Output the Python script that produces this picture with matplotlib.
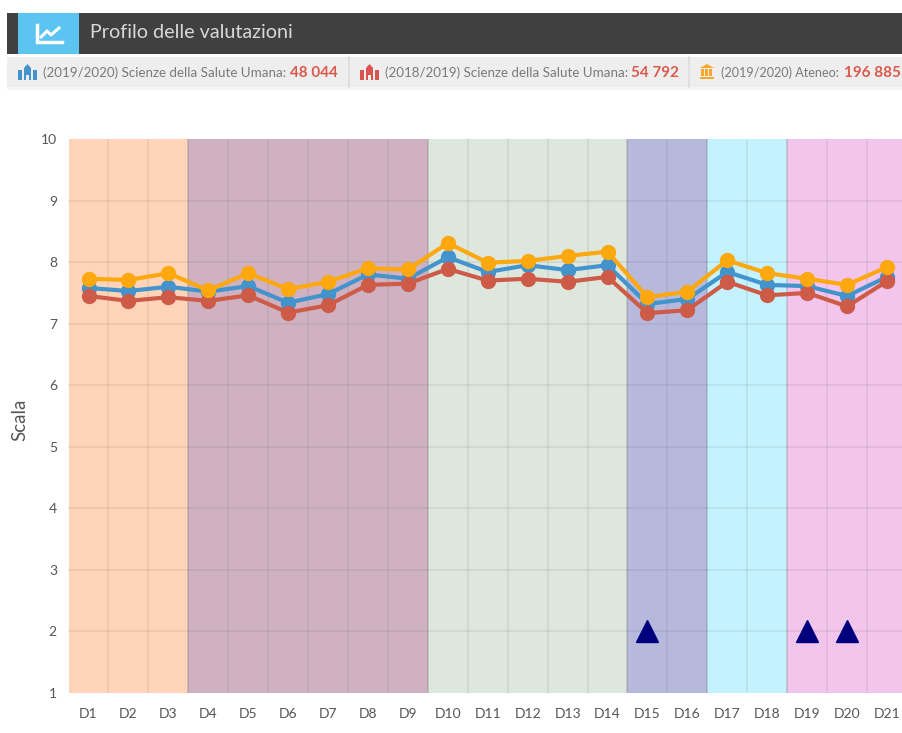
import matplotlib
matplotlib.use("Agg")
import matplotlib.pyplot as plt
from matplotlib.patches import Rectangle, Polygon

W, H = 903, 733
plt.rcParams['font.family'] = ['Lato', 'DejaVu Sans']

categories = [f"D{i}" for i in range(1, 22)]
ateneo = [7.73, 7.71, 7.82, 7.54, 7.82, 7.56, 7.68, 7.90, 7.88, 8.31, 7.99, 8.02, 8.10, 8.17, 7.43, 7.52, 8.03, 7.82, 7.73, 7.63, 7.92]
corso_1920 = [7.58, 7.53, 7.60, 7.52, 7.61, 7.34, 7.48, 7.80, 7.73, 8.08, 7.84, 7.95, 7.87, 7.95, 7.32, 7.40, 7.84, 7.63, 7.61, 7.45, 7.76]
corso_1819 = [7.45, 7.37, 7.43, 7.37, 7.46, 7.18, 7.30, 7.63, 7.65, 7.89, 7.70, 7.73, 7.68, 7.76, 7.17, 7.22, 7.68, 7.46, 7.50, 7.28, 7.69]
band_spans = [(-0.5, 2.5), (2.5, 8.5), (8.5, 13.5), (13.5, 15.5), (15.5, 17.5), (17.5, 20.5)]
band_colors = ['#FFD4B8', '#CFB1C1', '#DDE7DE', '#B7B9DC', '#C4F2FE', '#F2C5EC']
alert_cats = ['D15', 'D19', 'D20']
alert_vals = [2, 2, 2]

fig = plt.figure(figsize=(W / 100, H / 100), dpi=100, facecolor='white')

# ---- chart
ax = fig.add_axes([68 / W, 1 - 693 / H, (903 - 68) / W, (693 - 139) / H])
for (a, b), c in zip(band_spans, band_colors):
    ax.axvspan(a, b, color=c, lw=0, zorder=0)
ax.set_xlim((68.5 - 89) / 39.9, (903 - 89) / 39.9)
ax.set_ylim(1, 10)
idx = list(range(len(categories)))
for v in range(2, 10):
    ax.axhline(v, color='#444444', alpha=0.09, lw=1.3, zorder=1)
for i in idx:
    ax.axvline(i + 0.5, color='#444444', alpha=0.09, lw=1.3, zorder=1)
for (a, b) in band_spans[1:]:
    ax.axvline(a, color='#555555', alpha=0.14, lw=1.2, zorder=1)

ax.plot(idx, corso_1920, color='#4393CC', lw=3, marker='o', ms=10, zorder=3)
ax.plot(idx, corso_1819, color='#CE5B47', lw=3, marker='o', ms=10, zorder=4)
ax.plot(idx, ateneo, color='#FCA80E', lw=3, marker='o', ms=10, zorder=5)
ax.plot([categories.index(c) for c in alert_cats], alert_vals, ls='none', marker='^',
        color='#00007F', ms=16, zorder=6)

ax.set_xticks(idx, categories)
ax.set_yticks(range(1, 11))
ax.tick_params(length=0, labelsize=10, labelcolor='#555555')
ax.tick_params(axis='x', pad=11)
ax.tick_params(axis='y', pad=8)
for s in ax.spines.values():
    s.set_visible(False)
ax.set_ylabel('')

# ---- header (pixel coordinates)
ov = fig.add_axes([0, 0, 1, 1], facecolor='none')
ov.set_xlim(0, W)
ov.set_ylim(H, 0)
ov.axis('off')
ov.text(20, 420, 'Scala', rotation=90, ha='center', va='center', fontsize=13.5, color='#555555')

ov.add_patch(Rectangle((7, 13), W - 7, 41, color='#404040', lw=0))
ov.add_patch(Rectangle((18, 13), 61, 41, color='#5BC4F1', lw=0))
ov.plot([37, 37, 62], [25, 42, 42], color='white', lw=2.5, solid_joinstyle='miter')
ov.plot([41, 47, 51, 59], [37, 31, 35, 28], color='white', lw=2.2)
ov.text(90, 32, 'Profilo delle valutazioni', color='#D8D8D8', fontsize=14.2, va='center', ha='left')

ov.add_patch(Rectangle((7, 57), W - 7, 30, color='#EEEEEE', lw=0))
ov.add_patch(Rectangle((7, 87), W - 7, 3, color='#F5F5F5', lw=0))
for x in (349, 689):
    ov.plot([x, x], [57, 87], color='#DDDDDD', lw=1.2)


def campus(x0, color):
    ov.add_patch(Rectangle((x0, 70), 4, 10, color=color, lw=0))
    ov.add_patch(Rectangle((x0 + 15, 70), 4, 10, color=color, lw=0))
    ov.add_patch(Polygon([(x0 + 6, 80), (x0 + 6, 68), (x0 + 9.5, 64), (x0 + 13, 68), (x0 + 13, 80),
                          (x0 + 11, 80), (x0 + 11, 75), (x0 + 8, 75), (x0 + 8, 80)], color=color, lw=0))


campus(18, '#4393CC')
campus(360, '#D9534F')
gold = '#F9A72B'
ov.add_patch(Polygon([(700, 68), (707, 64), (714, 68)], color=gold, lw=0))
for x in (701.5, 705.5, 709.5):
    ov.add_patch(Rectangle((x, 69), 2.5, 7, color=gold, lw=0))
ov.add_patch(Rectangle((700, 76.5), 14, 2.5, color=gold, lw=0))

grey = '#7A7A7A'
red = '#DB5A4E'
for x, s in [(43, '(2019/2020) Scienze della Salute Umana:'),
             (385, '(2018/2019) Scienze della Salute Umana:')]:
    ov.text(x, 73, s, color=grey, fontsize=9.6, va='center', ha='left')
ov.text(721, 73, '(2019/2020) Ateneo:', color=grey, fontsize=9.1, va='center', ha='left')
for x, s in [(290, '48 044'), (631, '54 792'), (844, '196 885')]:
    ov.text(x, 73, s, color=red, fontsize=11, fontweight='bold', va='center', ha='left')

fig.savefig('out.png', dpi=100)
